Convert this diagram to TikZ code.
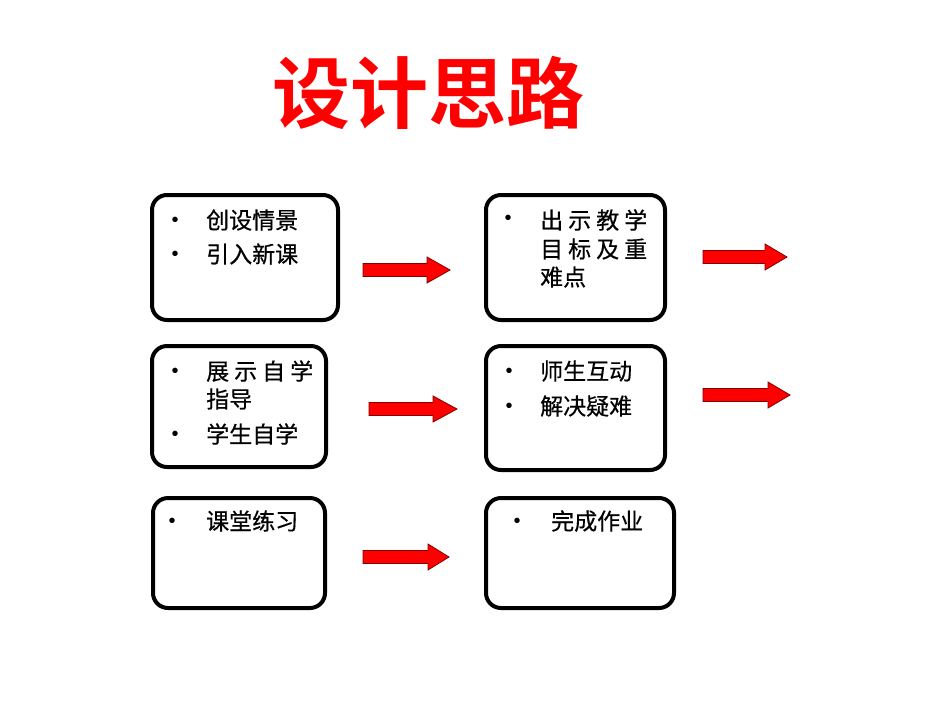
\documentclass[tikz,border=0pt]{standalone}
\usepackage{fontspec}
\setmainfont{Liberation Sans}
\newfontfamily\cjk[FakeBold=0.5]{Noto Sans CJK SC}
\newfontfamily\cjkbold{Noto Sans CJK SC Bold}
\newcommand{\gap}{\hspace{5pt}}
\newcommand{\redarrow}[4]{%
  \draw[redarr] (#1,#4-6.5) -- (#2,#4-6.5) -- (#2,#4-13) -- (#3,#4) -- (#2,#4+13) -- (#2,#4+6.5) -- (#1,#4+6.5) -- cycle;}
\tikzset{
  box/.style={draw=black, line width=4pt, rounded corners=15pt, fill=white, inner sep=0pt},
  txt/.style={anchor=west, inner sep=0pt, font=\cjk\fontsize{23}{26}\selectfont, text=black},
  bul/.style={anchor=base, inner sep=0pt, font=\fontsize{20}{22}\selectfont, text=black},
  redarr/.style={fill=red, draw=red!50!black, line width=0.8pt, line join=miter},
  ttl/.style={inner sep=0pt, font=\cjkbold\fontsize{78}{82}\selectfont, text=red}
}
\begin{document}
\begin{tikzpicture}[x=1pt,y=-1pt]
\useasboundingbox[fill=white] (0,0) rectangle (950,713);
\node[ttl] (title) at (428,93) {设计思路};
% boxes
\node[box, minimum width=186pt, minimum height=125pt] (b1) at (245,257.5) {};
\node[box, minimum width=179pt, minimum height=125pt] (b2) at (575.5,257.5) {};
\node[box, minimum width=174pt, minimum height=121pt] (b3) at (239,406.5) {};
\node[box, minimum width=179pt, minimum height=124pt] (b4) at (575.5,408) {};
\node[box, minimum width=172pt, minimum height=110pt] (b5) at (239,553) {};
\node[box, minimum width=188pt, minimum height=110pt] (b6) at (580,553) {};
% box 1
\node[bul] (b1d1) at (175,226) {•};
\node[txt] (b1t1) at (206,220) {创设情景};
\node[bul] (b1d2) at (175,260) {•};
\node[txt] (b1t2) at (206,254) {引入新课};
% box 2
\node[bul] (b2d1) at (508,224) {•};
\node[txt] (b2t1) at (540,220) {出\gap 示\gap 教\gap 学};
\node[txt] (b2t2) at (540,249) {目\gap 标\gap 及\gap 重};
\node[txt] (b2t3) at (540,277) {难点};
% box 3
\node[bul] (b3d1) at (175,377) {•};
\node[txt] (b3t1) at (206,371) {展\gap 示\gap 自\gap 学};
\node[txt] (b3t2) at (206,399) {指导};
\node[bul] (b3d2) at (175,440) {•};
\node[txt] (b3t3) at (206,434) {学生自学};
% box 4
\node[bul] (b4d1) at (509,377) {•};
\node[txt] (b4t1) at (540,371) {师生互动};
\node[bul] (b4d2) at (509,412) {•};
\node[txt] (b4t2) at (540,406) {解决疑难};
% box 5
\node[bul] (b5d1) at (172,527) {•};
\node[txt] (b5t1) at (206,521) {课堂练习};
% box 6
\node[bul] (b6d1) at (517,527) {•};
\node[txt] (b6t1) at (551,521) {完成作业};
% arrows
\redarrow{363}{427}{450}{270}
\redarrow{703}{765}{787}{257}
\redarrow{369}{433}{457}{409}
\redarrow{703}{768}{790}{395}
\redarrow{363}{428}{449}{557}
\end{tikzpicture}
\end{document}
